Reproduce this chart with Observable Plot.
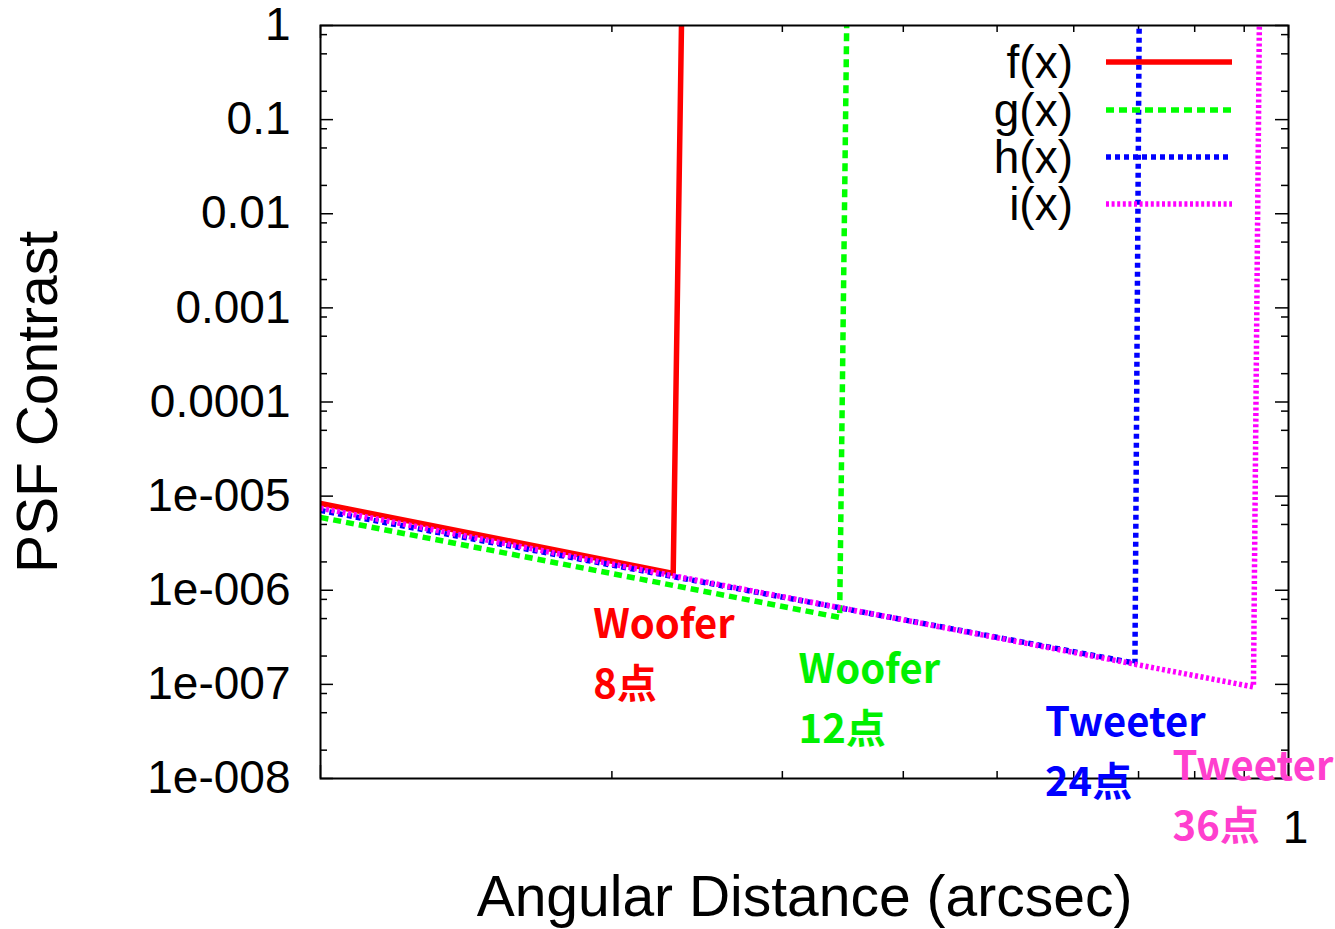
<!DOCTYPE html>
<html>
<head>
<meta charset="utf-8">
<script src="https://cdn.jsdelivr.net/npm/d3@7"></script>
<script src="https://cdn.jsdelivr.net/npm/@observablehq/plot@0.6"></script>
<style>
  html, body { margin: 0; padding: 0; background: #fff; }
  #chart { width: 1335px; height: 929px; }
</style>
</head>
<body>
<div id="chart"></div>
<script>
// ---- data ----
const fX = [0.1, 0.2314, 0.236];
const fY = [8.35e-6, 1.51e-6, 1];
const gX = [0.1, 0.3438, 0.3496];
const gY = [5.94e-6, 5.14e-7, 1];
const hX = [0.1, 0.694, 0.701];
const hY = [7.05e-6, 1.68e-7, 1];
const iX = [0.1, 0.920, 0.933];
const iY = [7.45e-6, 9.4e-8, 1];

const seriesNames = ["f(x)", "g(x)", "h(x)", "i(x)"];
const seriesColors = ["#ff0000", "#00ff00", "#0000ff", "#ff00ff"];
const seriesDash = ["none", "8,5", "5,4", "3,2.6"];

const yMajor = [1e-8, 1e-7, 1e-6, 1e-5, 1e-4, 1e-3, 1e-2, 1e-1, 1];
const yTickLabels = ["1e-008", "1e-007", "1e-006", "1e-005", "0.0001", "0.001", "0.01", "0.1", "1"];
const yMinorMult = [2, 5, 8];
const xMinor = [0.2, 0.3, 0.4, 0.5, 0.6, 0.7, 0.8, 0.9];
const xMajor = [0.1, 1];
const xTickLabelValues = [1];
const xTickLabels = ["1"];

const annoText = ["Woofer\n8点", "Woofer\n12点", "Tweeter\n24点", "Tweeter\n36点"];
const annoX = [0.1913, 0.3118, 0.5603, 0.759];
const annoY = [8.9e-7, 2.9e-7, 8.1e-8, 2.75e-8];
const annoColor = ["#ff0000", "#00f000", "#0000ff", "#ff3fce"];

const xTitle = "Angular Distance (arcsec)";
const yTitle = "PSF Contrast";

// ---- layout ----
const W = 1335, H = 929;
const mL = 320, mR = 47, mT = 25, mB = 151;
const pw = W - mL - mR, ph = H - mT - mB;
const majorLen = 13, minorLen = 7;
const lineW = 5.5;

const yMinor = [];
for (let k = 0; k < yMajor.length - 1; k++) for (const m of yMinorMult) yMinor.push(yMajor[k] * m);

const toPts = (xs, ys) => xs.map((x, i) => ({x, y: ys[i]}));
const seriesData = [toPts(fX, fY), toPts(gX, gY), toPts(hX, hY), toPts(iX, iY)];

const lineMarks = seriesData.map((d, k) => Plot.line(d, {
  x: "x", y: "y", stroke: seriesColors[k], strokeWidth: lineW,
  strokeDasharray: seriesDash[k], strokeLinecap: "butt", strokeLinejoin: "miter", clip: true
}));

const tickStyle = {stroke: "#000", strokeWidth: 1.5};

const chart = Plot.plot({
  width: W, height: H,
  marginLeft: mL, marginRight: mR, marginTop: mT, marginBottom: mB,
  style: {fontFamily: "'Liberation Sans', Arial, sans-serif", background: "#fff", overflow: "visible"},
  x: {type: "log", domain: [0.1, 1], axis: null},
  y: {type: "log", domain: [1e-8, 1], axis: null},
  marks: [
    // ticks (inward, mirrored)
    Plot.tickY(yMajor, {y: d => d, insetRight: pw - majorLen, ...tickStyle}),
    Plot.tickY(yMajor, {y: d => d, insetLeft: pw - majorLen, ...tickStyle}),
    Plot.tickY(yMinor, {y: d => d, insetRight: pw - minorLen, ...tickStyle}),
    Plot.tickY(yMinor, {y: d => d, insetLeft: pw - minorLen, ...tickStyle}),
    Plot.tickX(xMinor, {x: d => d, insetTop: ph - minorLen, ...tickStyle}),
    Plot.tickX(xMinor, {x: d => d, insetBottom: ph - minorLen, ...tickStyle}),
    Plot.tickX(xMajor, {x: d => d, insetTop: ph - majorLen, ...tickStyle}),
    Plot.tickX(xMajor, {x: d => d, insetBottom: ph - majorLen, ...tickStyle}),
    // tick labels
    Plot.text(yMajor, {y: d => d, text: (d, i) => yTickLabels[i], frameAnchor: "left", dx: -30,
      textAnchor: "end", lineAnchor: "middle", fontSize: 46, fill: "#000"}),
    Plot.text(xTickLabelValues, {x: d => d, text: (d, i) => xTickLabels[i], frameAnchor: "bottom", dy: 50, dx: 7,
      textAnchor: "middle", lineAnchor: "middle", fontSize: 46, fill: "#000"}),
    // data lines
    ...lineMarks,
    Plot.frame({stroke: "#000", strokeWidth: 2}),
    // annotations
    Plot.text(annoText, {x: (d, i) => annoX[i], y: (d, i) => annoY[i], text: d => d,
      fill: (d, i) => annoColor[i], textAnchor: "start", lineAnchor: "top", lineHeight: 1.5,
      fontSize: 40, fontWeight: "bold", fontFamily: "'Noto Sans CJK JP', 'Noto Sans', sans-serif"}),
    // titles
    Plot.text([xTitle], {frameAnchor: "bottom", dy: 119, text: d => d, textAnchor: "middle", lineAnchor: "middle",
      fontSize: 57, fill: "#000"}),
    Plot.text([yTitle], {frameAnchor: "left", dx: -282, rotate: -90, text: d => d, textAnchor: "middle",
      lineAnchor: "middle", fontSize: 57, fill: "#000"})
  ]
});
document.getElementById("chart").appendChild(chart);

// legend (inside top right)
const svg = d3.select(chart);
const lg = svg.append("g").attr("font-family", "'Liberation Sans', Arial, sans-serif");
const legTextX = 1073, legLineX1 = 1106, legLineX2 = 1232;
const legY = [62, 110, 157, 204];
seriesNames.forEach((name, k) => {
  lg.append("text").attr("x", legTextX).attr("y", legY[k]).attr("dy", "0.35em")
    .attr("text-anchor", "end").attr("font-size", 46).attr("fill", "#000").text(name);
  lg.append("line").attr("x1", legLineX1).attr("x2", legLineX2)
    .attr("y1", legY[k]).attr("y2", legY[k]).attr("stroke", seriesColors[k]).attr("stroke-width", lineW)
    .attr("stroke-dasharray", seriesDash[k]).attr("stroke-linecap", "butt");
});
</script>
</body>
</html>
